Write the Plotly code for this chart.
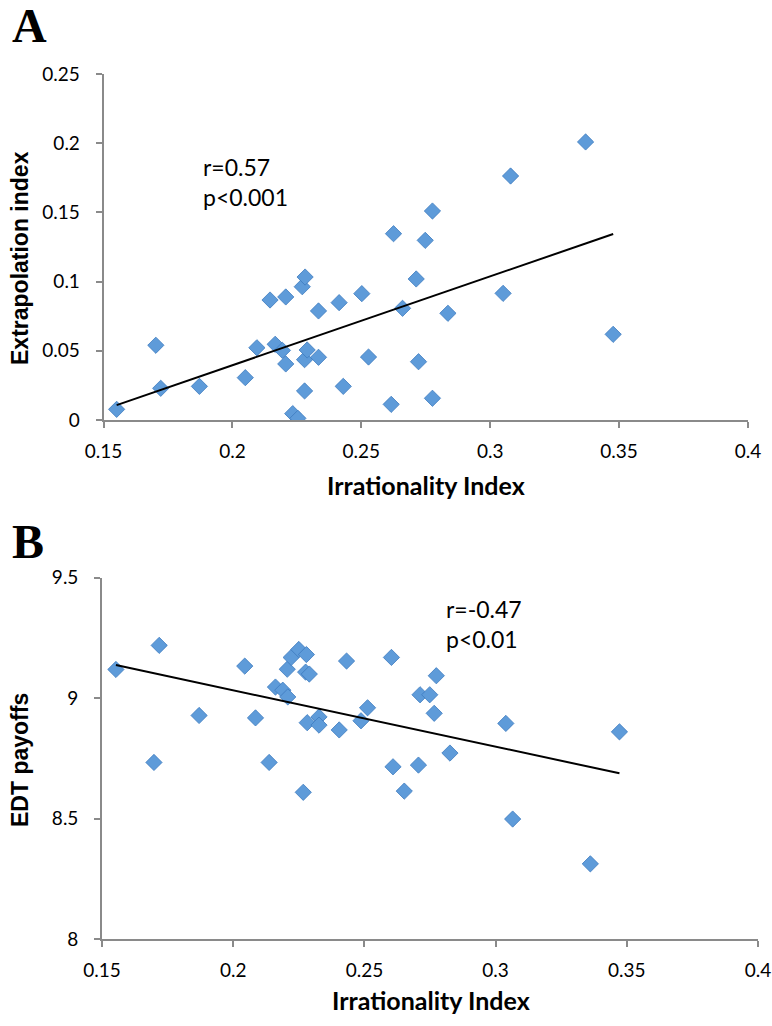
import numpy as np
import plotly.graph_objects as go

W, H = 772, 1026

# ---------- Panel A data ----------
irr_a = [0.1551, 0.1703, 0.1722, 0.1872, 0.2050, 0.2095, 0.2146, 0.2166, 0.2194, 0.2207,
         0.2207, 0.2234, 0.2254, 0.2271, 0.2282, 0.2280, 0.2280, 0.2290, 0.2334, 0.2334,
         0.2414, 0.2430, 0.2502, 0.2528, 0.2625, 0.2616, 0.2660, 0.2713, 0.2722, 0.2748,
         0.2776, 0.2776, 0.2836, 0.3050, 0.3079, 0.3370, 0.3477]
extrap = [0.0077, 0.0540, 0.0229, 0.0243, 0.0306, 0.0522, 0.0867, 0.0547, 0.0503, 0.0889,
          0.0405, 0.0046, 0.0012, 0.0963, 0.1033, 0.0210, 0.0436, 0.0506, 0.0788, 0.0453,
          0.0848, 0.0243, 0.0913, 0.0455, 0.1346, 0.0113, 0.0807, 0.1019, 0.0421, 0.1298,
          0.1510, 0.0157, 0.0771, 0.0915, 0.1763, 0.2009, 0.0619]

# ---------- Panel B data ----------
irr_b = [0.1553, 0.1718, 0.1698, 0.1870, 0.2044, 0.2085, 0.2137, 0.2161, 0.2189, 0.2208,
         0.2206, 0.2221, 0.2250, 0.2279, 0.2276, 0.2290, 0.2282, 0.2327, 0.2327, 0.2267,
         0.2404, 0.2432, 0.2487, 0.2512, 0.2603, 0.2609, 0.2652, 0.2706, 0.2712, 0.2749,
         0.2766, 0.2774, 0.2826, 0.3039, 0.3065, 0.3361, 0.3472]
edt = [9.119, 9.219, 8.733, 8.928, 9.133, 8.918, 8.733, 9.046, 9.033, 9.005,
       9.120, 9.169, 9.202, 9.181, 9.108, 9.100, 8.898, 8.922, 8.888, 8.609,
       8.868, 9.154, 8.906, 8.960, 9.169, 8.715, 8.614, 8.722, 9.014, 9.014,
       8.937, 9.093, 8.772, 8.895, 8.498, 8.312, 8.860]

x_ticks = [0.15, 0.2, 0.25, 0.3, 0.35, 0.4]
x_ticklabels = ["0.15", "0.2", "0.25", "0.3", "0.35", "0.4"]
ya_ticks = [0, 0.05, 0.1, 0.15, 0.2, 0.25]
ya_ticklabels = ["0", "0.05", "0.1", "0.15", "0.2", "0.25"]
yb_ticks = [8, 8.5, 9, 9.5]
yb_ticklabels = ["8", "8.5", "9", "9.5"]

stats_a = "r=0.57<br>p<0.001"
stats_b = "r=-0.47<br>p<0.01"

MARKER = dict(symbol="diamond", size=12.5, color="#5e9bd9",
              line=dict(color="#3d7bbf", width=0.8))
TICKFONT = dict(family="Lato", size=19, color="#000")
TITLEFONT = dict(family="Lato", size=25, color="#000")
YTITLEFONT = dict(family="Liberation Sans", size=23, color="#000")


def px_x(p):
    return p / W


def px_y(p):
    return 1 - p / H


fig = go.Figure()

for xs, ys, xa, ya in [(irr_a, extrap, "x", "y"), (irr_b, edt, "x2", "y2")]:
    xs = np.array(xs)
    ys = np.array(ys)
    fig.add_trace(go.Scatter(x=xs, y=ys, mode="markers", marker=MARKER,
                             xaxis=xa, yaxis=ya, showlegend=False, hoverinfo="skip"))
    k, b = np.polyfit(xs, ys, 1)
    lx = np.array([xs.min(), xs.max()])
    fig.add_trace(go.Scatter(x=lx, y=k * lx + b, mode="lines",
                             line=dict(color="#000", width=2),
                             xaxis=xa, yaxis=ya, showlegend=False, hoverinfo="skip"))

axis_common = dict(showgrid=False, zeroline=False, showline=True, linecolor="#8a8a8a",
                   linewidth=1.6, ticks="outside", ticklen=6, tickcolor="#8a8a8a",
                   tickwidth=1.6, tickfont=TICKFONT, automargin=False,
                   ticklabeloverflow="allow")

fig.update_layout(
    width=W, height=H, margin=dict(l=0, r=0, t=0, b=0, pad=0, autoexpand=False),
    paper_bgcolor="white", plot_bgcolor="white",
    xaxis=dict(domain=[px_x(103.5), px_x(748)], range=[0.15, 0.4], tickvals=x_ticks,
               ticktext=x_ticklabels, anchor="y", ticklabelstandoff=7, **axis_common),
    yaxis=dict(domain=[px_y(420), px_y(74)], range=[0, 0.25], tickvals=ya_ticks,
               ticktext=ya_ticklabels, anchor="x", ticklabelstandoff=12, **axis_common),
    xaxis2=dict(domain=[px_x(102), px_x(758)], range=[0.15, 0.4], tickvals=x_ticks,
                ticktext=x_ticklabels, anchor="y2", ticklabelstandoff=7, **axis_common),
    yaxis2=dict(domain=[px_y(939), px_y(577.7)], range=[8, 9.5], tickvals=yb_ticks,
                ticktext=yb_ticklabels, anchor="x2", ticklabelstandoff=12, **axis_common),
)

annotations = [
    # panel letters
    dict(text="<b>A</b>", x=px_x(10), y=px_y(-3), xanchor="left", yanchor="top",
         font=dict(family="Liberation Serif", size=48, color="#000")),
    dict(text="<b>B</b>", x=px_x(10), y=px_y(513), xanchor="left", yanchor="top",
         font=dict(family="Liberation Serif", size=48, color="#000")),
    # axis titles
    dict(text="<b>Irrationality Index</b>", x=px_x(426), y=px_y(485), xanchor="center",
         yanchor="middle", font=TITLEFONT),
    dict(text="<b>Irrationality Index</b>", x=px_x(431), y=px_y(1000), xanchor="center",
         yanchor="middle", font=TITLEFONT),
    dict(text="<b>Extrapolation index</b>", x=px_x(20), y=px_y(258), xanchor="center",
         yanchor="middle", textangle=-90, font=YTITLEFONT),
    dict(text="<b>EDT payoffs</b>", x=px_x(20), y=px_y(760), xanchor="center",
         yanchor="middle", textangle=-90, font=YTITLEFONT),
    # stats
    dict(text=stats_a, x=px_x(201), y=px_y(151), xanchor="left", yanchor="top", align="left",
         font=dict(family="Lato", size=23, color="#000")),
    dict(text=stats_b, x=px_x(444), y=px_y(593), xanchor="left", yanchor="top", align="left",
         font=dict(family="Lato", size=23, color="#000")),
]
for a in annotations:
    a.update(xref="paper", yref="paper", showarrow=False)
fig.update_layout(annotations=annotations)

fig.write_html("out.html", config={"displayModeBar": False},
               post_script="document.body.style.margin='0';document.body.style.overflow='hidden';")
